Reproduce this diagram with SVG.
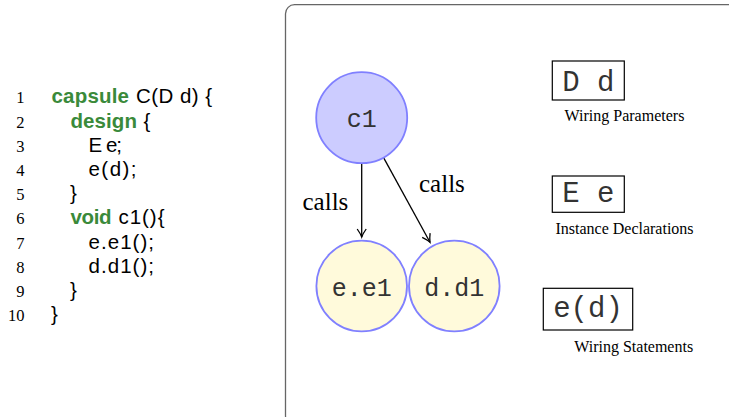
<svg xmlns="http://www.w3.org/2000/svg" width="729" height="417" viewBox="0 0 729 417">
<style>
.ln{font-family:"Liberation Serif","Times New Roman",serif;font-size:16.5px;fill:#000;text-anchor:end}
.kw{font-family:"Liberation Sans",Arial,sans-serif;font-size:20.5px;font-weight:bold;fill:#3a8a3a}
.cd{font-family:"Liberation Sans",Arial,sans-serif;font-size:20.5px;fill:#000}
.node{stroke:#8080ff;stroke-width:1.8}
.nt{font-family:"Liberation Mono","Courier New",monospace;font-size:25px;fill:#333;text-anchor:middle}
.bx{fill:#fff;stroke:#000;stroke-width:1.2}
.bt{font-family:"Liberation Mono","Courier New",monospace;font-size:29px;fill:#333;text-anchor:middle}
.cap{font-family:"Liberation Serif","Times New Roman",serif;font-size:16px;fill:#000;text-anchor:middle}
.lbl{font-family:"Liberation Serif","Times New Roman",serif;font-size:25px;fill:#000}
.edge{stroke:#000;stroke-width:1.3;fill:none}
</style>
<defs>
<marker id="arr" viewBox="-10 -6 12 12" refX="0" refY="0" markerWidth="12" markerHeight="12" markerUnits="userSpaceOnUse" orient="auto">
<path d="M-8,-4.5 Q-3,-1 0,0 Q-3,1 -8,4.5" fill="none" stroke="#000" stroke-width="1.3"/>
</marker>
</defs>
<g id="code">
<text class="ln" x="24.5" y="103.3">1</text>
<text class="ln" x="24.5" y="127.5">2</text>
<text class="ln" x="24.5" y="151.7">3</text>
<text class="ln" x="24.5" y="175.9">4</text>
<text class="ln" x="24.5" y="200.1">5</text>
<text class="ln" x="24.5" y="224.3">6</text>
<text class="ln" x="24.5" y="248.5">7</text>
<text class="ln" x="24.5" y="272.7">8</text>
<text class="ln" x="24.5" y="296.9">9</text>
<text class="ln" x="24.5" y="321.1">10</text>
<text class="kw" x="51.5" y="103.3" textLength="77.5" lengthAdjust="spacing">capsule</text>
<text class="cd" x="136" y="103.3" textLength="76" lengthAdjust="spacing">C(D d) {</text>
<text class="kw" x="70.5" y="127.5" textLength="66.5" lengthAdjust="spacing">design</text>
<text class="cd" x="143.5" y="127.5">{</text>
<text class="cd" x="88.5" y="151.7" textLength="33.5" lengthAdjust="spacing">E e;</text>
<text class="cd" x="88.5" y="175.9" textLength="48" lengthAdjust="spacing">e(d);</text>
<text class="cd" x="70" y="200.1">}</text>
<text class="kw" x="70.5" y="224.3" textLength="41" lengthAdjust="spacing">void</text>
<text class="cd" x="118.5" y="224.3" textLength="46" lengthAdjust="spacing">c1(){</text>
<text class="cd" x="88.5" y="248.5" textLength="65.5" lengthAdjust="spacing">e.e1();</text>
<text class="cd" x="88.5" y="272.7" textLength="65.5" lengthAdjust="spacing">d.d1();</text>
<text class="cd" x="70" y="296.9">}</text>
<text class="cd" x="51" y="321.1">}</text>
</g>
<rect id="panel" x="285.5" y="4.7" width="460" height="420" rx="9" ry="9" fill="none" stroke="#666" stroke-width="1.3"/>
<g id="connectors">
<line class="edge" x1="361.7" y1="163.5" x2="361.7" y2="237" marker-end="url(#arr)"/>
<line class="edge" x1="383.7" y1="157.9" x2="430" y2="242.3" marker-end="url(#arr)"/>
<text class="lbl" x="302.5" y="210">calls</text>
<text class="lbl" x="419" y="191.7">calls</text>
</g>
<g id="c1">
<circle class="node" cx="361.7" cy="117.7" r="45.5" fill="#ccccff"/>
<text class="nt" x="361.7" y="126.7">c1</text>
</g>
<g id="e1">
<circle class="node" cx="361.7" cy="286" r="45.3" fill="#fffadb"/>
<text class="nt" x="361.7" y="295.5">e.e1</text>
</g>
<g id="d1">
<circle class="node" cx="454.3" cy="286" r="45.3" fill="#fffadb"/>
<text class="nt" x="454.3" y="295.5">d.d1</text>
</g>
<g id="wiring-params">
<rect class="bx" x="552.3" y="61" width="72" height="39"/>
<text class="bt" x="588.3" y="90.5">D d</text>
<text class="cap" x="624.5" y="121">Wiring Parameters</text>
</g>
<g id="instance-decls">
<rect class="bx" x="552.3" y="176" width="72" height="36.3"/>
<text class="bt" x="588.3" y="202">E e</text>
<text class="cap" x="624.5" y="234">Instance Declarations</text>
</g>
<g id="wiring-stmts">
<rect class="bx" x="543.3" y="288.3" width="89.4" height="41.7"/>
<text class="bt" x="588" y="316.5">e(d)</text>
<text class="cap" x="633.7" y="351.7">Wiring Statements</text>
</g>
</svg>
